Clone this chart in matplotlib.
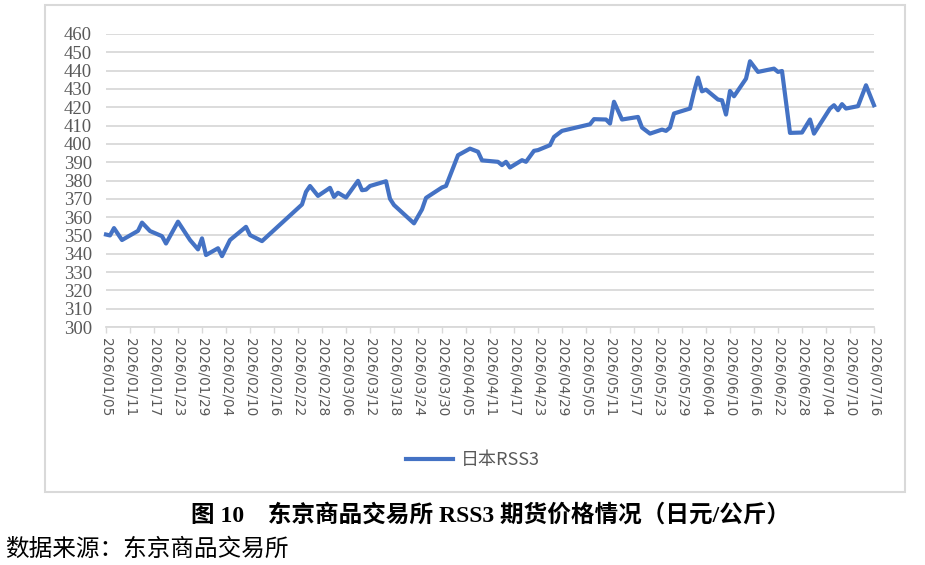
import pandas as pd
import matplotlib
matplotlib.use("Agg")
import matplotlib.pyplot as plt
from matplotlib.patches import Rectangle

# 东京商品交易所 RSS3 期货价格 (日元/公斤)
dates = [
    "2026-01-05", "2026-01-06", "2026-01-07", "2026-01-09", "2026-01-13", "2026-01-14",
    "2026-01-16", "2026-01-19", "2026-01-20", "2026-01-23", "2026-01-26", "2026-01-28",
    "2026-01-29", "2026-01-30", "2026-02-02", "2026-02-03", "2026-02-05", "2026-02-09",
    "2026-02-10", "2026-02-13", "2026-02-23", "2026-02-24", "2026-02-25", "2026-02-27",
    "2026-03-02", "2026-03-03", "2026-03-04", "2026-03-06", "2026-03-09", "2026-03-10",
    "2026-03-11", "2026-03-12", "2026-03-16", "2026-03-17", "2026-03-18", "2026-03-23",
    "2026-03-25", "2026-03-26", "2026-03-30", "2026-03-31", "2026-04-03", "2026-04-06",
    "2026-04-08", "2026-04-09", "2026-04-13", "2026-04-14", "2026-04-15", "2026-04-16",
    "2026-04-19", "2026-04-20", "2026-04-22", "2026-04-23", "2026-04-26", "2026-04-27",
    "2026-04-29", "2026-05-06", "2026-05-07", "2026-05-10", "2026-05-11", "2026-05-12",
    "2026-05-14", "2026-05-18", "2026-05-19", "2026-05-21", "2026-05-24", "2026-05-25",
    "2026-05-26", "2026-05-27", "2026-05-31", "2026-06-01", "2026-06-02", "2026-06-03",
    "2026-06-04", "2026-06-07", "2026-06-08", "2026-06-09", "2026-06-10", "2026-06-11",
    "2026-06-14", "2026-06-15", "2026-06-17", "2026-06-21", "2026-06-22", "2026-06-23",
    "2026-06-25", "2026-06-28", "2026-06-30", "2026-07-01", "2026-07-05", "2026-07-06",
    "2026-07-07", "2026-07-08", "2026-07-09", "2026-07-12", "2026-07-14", "2026-07-16",
]
prices = [
    350.5, 350.0, 354.0, 347.5, 352.5, 357.0,
    352.4, 349.6, 345.6, 357.5, 347.5, 342.4,
    348.4, 339.3, 343.0, 338.7, 347.5, 354.7,
    350.2, 346.9, 366.9, 373.8, 377.0, 371.6,
    376.0, 371.0, 373.3, 370.7, 379.8, 374.7,
    375.0, 377.0, 379.6, 370.0, 366.6, 356.6,
    364.2, 370.5, 376.2, 377.0, 393.8, 397.4,
    395.7, 391.0, 390.2, 388.4, 390.2, 387.1,
    391.1, 390.2, 396.2, 396.6, 399.3, 403.8,
    407.1, 410.7, 413.5, 413.3, 411.1, 423.0,
    413.3, 414.7, 408.9, 405.6, 407.8, 407.1,
    408.9, 416.6, 419.3, 428.4, 436.2, 428.7,
    429.6, 424.2, 423.8, 416.0, 428.9, 426.0,
    435.6, 445.1, 439.3, 441.1, 439.3, 439.8,
    406.0, 406.2, 413.3, 405.6, 419.3, 421.1,
    418.4, 421.7, 419.3, 420.6, 432.0, 421.1,
]
series_name = "日本RSS3"
y_ticks = list(range(300, 461, 10))
x_ticks = pd.date_range("2026-01-05", "2026-07-16", freq="6D")

grey = "#d9d9d9"
txt = "#595959"
blue = "#4472C4"

x = pd.to_datetime(dates)

fig = plt.figure(figsize=(9.25, 5.65), dpi=100)
ax = fig.add_axes([106 / 925, 1 - 327 / 565, (874 - 106) / 925, (327 - 34) / 565])

ax.plot(x, prices, color=blue, lw=3.0, solid_joinstyle="round", clip_on=False, zorder=3, label=series_name)

ax.set_xlim(x_ticks[0], x_ticks[-1])
ax.set_ylim(300, 460)
ax.set_yticks(y_ticks)
ax.set_yticklabels([str(v) for v in y_ticks], family="Liberation Serif", fontsize=13.5, color=txt)
ax.set_xticks(x_ticks)
ax.set_xticklabels([d.strftime("%Y/%m/%d") for d in x_ticks], rotation=270,
                   family="DejaVu Sans", fontsize=9.8, color=txt)

ax.grid(axis="y", color=grey, lw=1.3)
ax.set_axisbelow(True)
for s in ["top", "right", "left"]:
    ax.spines[s].set_visible(False)
ax.spines["bottom"].set_color(grey)
ax.spines["bottom"].set_linewidth(1.3)
ax.tick_params(axis="y", length=0, pad=10)
ax.tick_params(axis="x", direction="out", length=4, width=1, color=grey, pad=4)

fig.legend(loc="center", bbox_to_anchor=(473 / 925, 1 - 460 / 565), frameon=False,
           handlelength=2.6, handletextpad=0.4,
           prop={"family": ["Noto Sans CJK SC"], "size": 13}, labelcolor=txt)

# outer chart border
fig.patches.append(Rectangle((45 / 925, 1 - 492 / 565), (905 - 45) / 925, (492 - 5) / 565,
                             transform=fig.transFigure, fill=False, edgecolor=grey, lw=1.5))

fig.text(491 / 925, 1 - 515 / 565, "图 10　东京商品交易所 RSS3 期货价格情况（日元/公斤）",
         ha="center", va="center", fontsize=17, fontweight="bold",
         family=["Liberation Serif", "Noto Sans CJK SC"], color="black")
fig.text(5 / 925, 1 - 549 / 565, "数据来源：东京商品交易所", ha="left", va="center",
         fontsize=17, family=["Noto Sans CJK SC"], color="black")

fig.savefig("out.png", dpi=100)
